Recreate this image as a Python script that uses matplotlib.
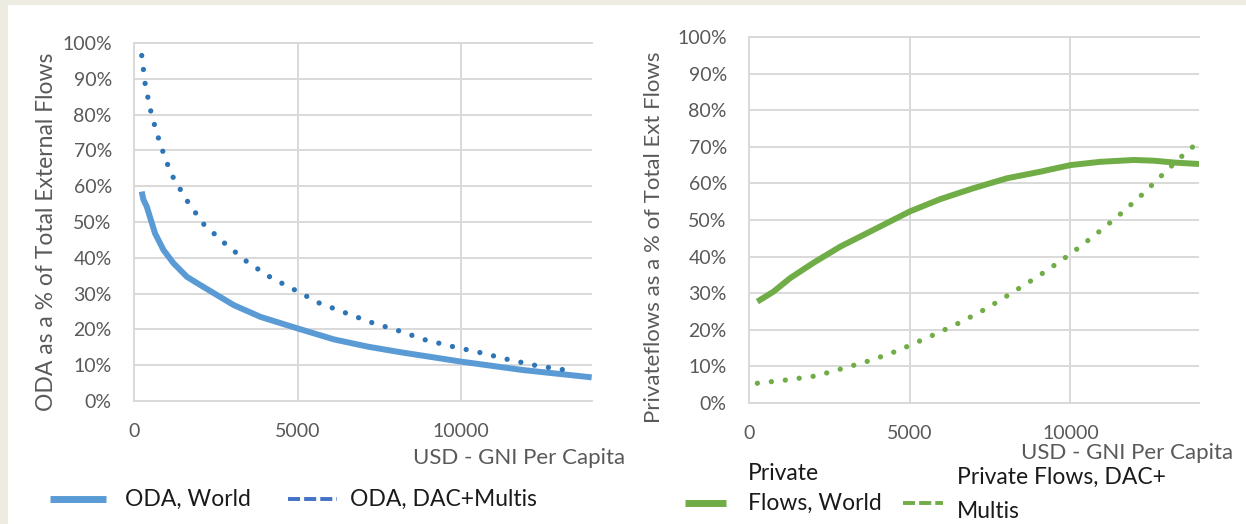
import numpy as np
import matplotlib
matplotlib.use('Agg')
import matplotlib.pyplot as plt
from matplotlib.lines import Line2D
from matplotlib.patches import Rectangle

plt.rcParams['font.family'] = ['Lato', 'DejaVu Sans']

# --- data ---
x_ticks = [0, 5000, 10000]
y_ticks = [0, .1, .2, .3, .4, .5, .6, .7, .8, .9, 1.0]
y_tick_labels = ['0%', '10%', '20%', '30%', '40%', '50%', '60%', '70%', '80%', '90%', '100%']

oda_world_x = [236, 286, 390, 644, 900, 1206, 1616, 2025, 2536, 3046, 3865, 4990,
               6114, 7137, 8160, 10000, 11840, 13990]
oda_world_y = [58.5, 56.3, 54.3, 46.8, 42.2, 38.5, 34.7, 32.4, 29.6, 26.8, 23.5, 20.3,
               17.2, 15.2, 13.6, 11.0, 8.7, 6.6]

oda_dac_x = [236, 347, 543, 807, 1125, 1595, 2117, 2791, 3466, 4182, 4918, 5654,
             6472, 7270, 8098, 8896, 9745, 10593, 11432, 12290, 13150]
oda_dac_y = [96.5, 88.1, 79.7, 71.6, 63.6, 56.3, 49.5, 43.9, 38.8, 34.5, 31.0, 27.4,
             24.6, 21.9, 19.6, 17.1, 15.2, 13.5, 11.6, 9.9, 8.7]

priv_world_x = [260, 758, 1277, 2004, 2835, 3873, 4995, 5950, 6988, 8027, 9065,
                10000, 10935, 11973, 12596, 13220, 14000]
priv_world_y = [27.7, 30.4, 34.1, 38.3, 42.7, 47.3, 52.3, 55.7, 58.7, 61.4, 63.2,
                65.0, 65.9, 66.4, 66.2, 65.7, 65.3]

priv_dac_x = [260, 1174, 2087, 2938, 3769, 4601, 5016, 5816, 6614, 7405, 8162, 8920,
              9315, 10031, 10779, 11486, 12190, 12866, 13561, 13915]
priv_dac_y = [5.4, 6.3, 7.4, 9.5, 11.6, 14.2, 15.8, 18.9, 22.2, 25.9, 30.0, 34.2,
              36.5, 40.9, 46.0, 51.1, 56.6, 62.4, 68.2, 70.8]

BLUE = '#5B9BD5'
DBLUE = '#2E75B6'
LEGBLUE = '#4472C4'
GREEN = '#70AD47'
GRID = '#D9D9D9'
TXT = '#595959'
LEGTXT = '#1A1A1A'
DOTS = (0, (0.01, 2.65))
DASHES = (0, (3.1, 1.05))
W, H = 1246, 524

fig = plt.figure(figsize=(W / 100, H / 100), dpi=100)
fig.add_artist(Rectangle((0, 0), 8 / W, 1, transform=fig.transFigure,
                         color='#EEECE1', lw=0))
fig.add_artist(Rectangle((0, 1 - 5 / H), 1, 5 / H, transform=fig.transFigure,
                         color='#EEECE1', lw=0))

ax1 = fig.add_axes([134 / W, 123 / H, 458 / W, 358 / H])
ax2 = fig.add_axes([749 / W, 121 / H, 450 / W, 366 / H])


def px(x, y):
    # pixel position (from top-left) -> figure fraction
    return x / W, (H - y) / H


def style_axes(ax, ylabel, size, label_xy):
    ax.set_xlim(0, 14000)
    ax.set_ylim(0, 1)
    ax.set_xticks(x_ticks)
    ax.set_xticklabels([str(t) for t in x_ticks])
    ax.set_yticks(y_ticks)
    ax.set_yticklabels(y_tick_labels)
    ax.grid(True, color=GRID, lw=1.4)
    ax.set_axisbelow(True)
    for s in ['left', 'bottom', 'top']:
        ax.spines[s].set_color(GRID)
        ax.spines[s].set_linewidth(1.4)
    ax.spines['right'].set_visible(False)
    ax.tick_params(length=0, labelsize=14, labelcolor=TXT)
    ax.tick_params(axis='y', pad=16)
    ax.tick_params(axis='x', pad=16)
    ax.set_ylabel(ylabel, fontsize=size, color=TXT)
    ax.yaxis.set_label_coords(*px(*label_xy), transform=fig.transFigure)


style_axes(ax1, 'ODA as a % of Total External Flows', 16.5, (57, 232))
ax1.plot(oda_world_x, np.array(oda_world_y) / 100, color=BLUE, lw=4.3,
         solid_capstyle='butt')
ax1.plot(oda_dac_x, np.array(oda_dac_y) / 100, color=DBLUE, lw=3.8,
         linestyle=DOTS, dash_capstyle='round')

style_axes(ax2, 'Privateflows as a % of Total Ext Flows', 16, (664, 237))
ax2.plot(priv_world_x, np.array(priv_world_y) / 100, color=GREEN, lw=4.3,
         solid_capstyle='butt')
ax2.plot(priv_dac_x, np.array(priv_dac_y) / 100, color=GREEN, lw=3.8,
         linestyle=DOTS, dash_capstyle='round')

fig.text(*px(625, 458), 'USD - GNI Per Capita', ha='right', va='center',
         fontsize=16, color=TXT)
fig.text(*px(1233, 453), 'USD - GNI Per Capita', ha='right', va='center',
         fontsize=16, color=TXT)


# legends, laid out like the Excel ones below each chart
def legend_entry(x0, x1, y, style, lines, tx):
    (a, b), (c, d) = px(x0, y), px(x1, y)
    fig.add_artist(Line2D([a, c], [b, d], transform=fig.transFigure, **style))
    for label, ty in lines:
        fig.text(*px(tx, ty), label, ha='left', va='center', fontsize=16.5,
                 color=LEGTXT)


solid_blue = dict(color=BLUE, lw=5, solid_capstyle='butt')
dash_blue = dict(color=LEGBLUE, lw=2.8, linestyle=DASHES, dash_capstyle='butt')
solid_green = dict(color=GREEN, lw=5, solid_capstyle='butt')
dash_green = dict(color=GREEN, lw=2.8, linestyle=DASHES, dash_capstyle='butt')

legend_entry(50, 106, 499, solid_blue, [('ODA, World', 499)], 125)
legend_entry(288, 337, 499, dash_blue, [('ODA, DAC+Multis', 499)], 350)
legend_entry(685, 726, 503, solid_green, [('Private', 473), ('Flows, World', 503)], 748)
legend_entry(903, 943, 503, dash_green,
             [('Private Flows, DAC+', 477), ('Multis', 511)], 957)

fig.savefig('out.png', dpi=100)
